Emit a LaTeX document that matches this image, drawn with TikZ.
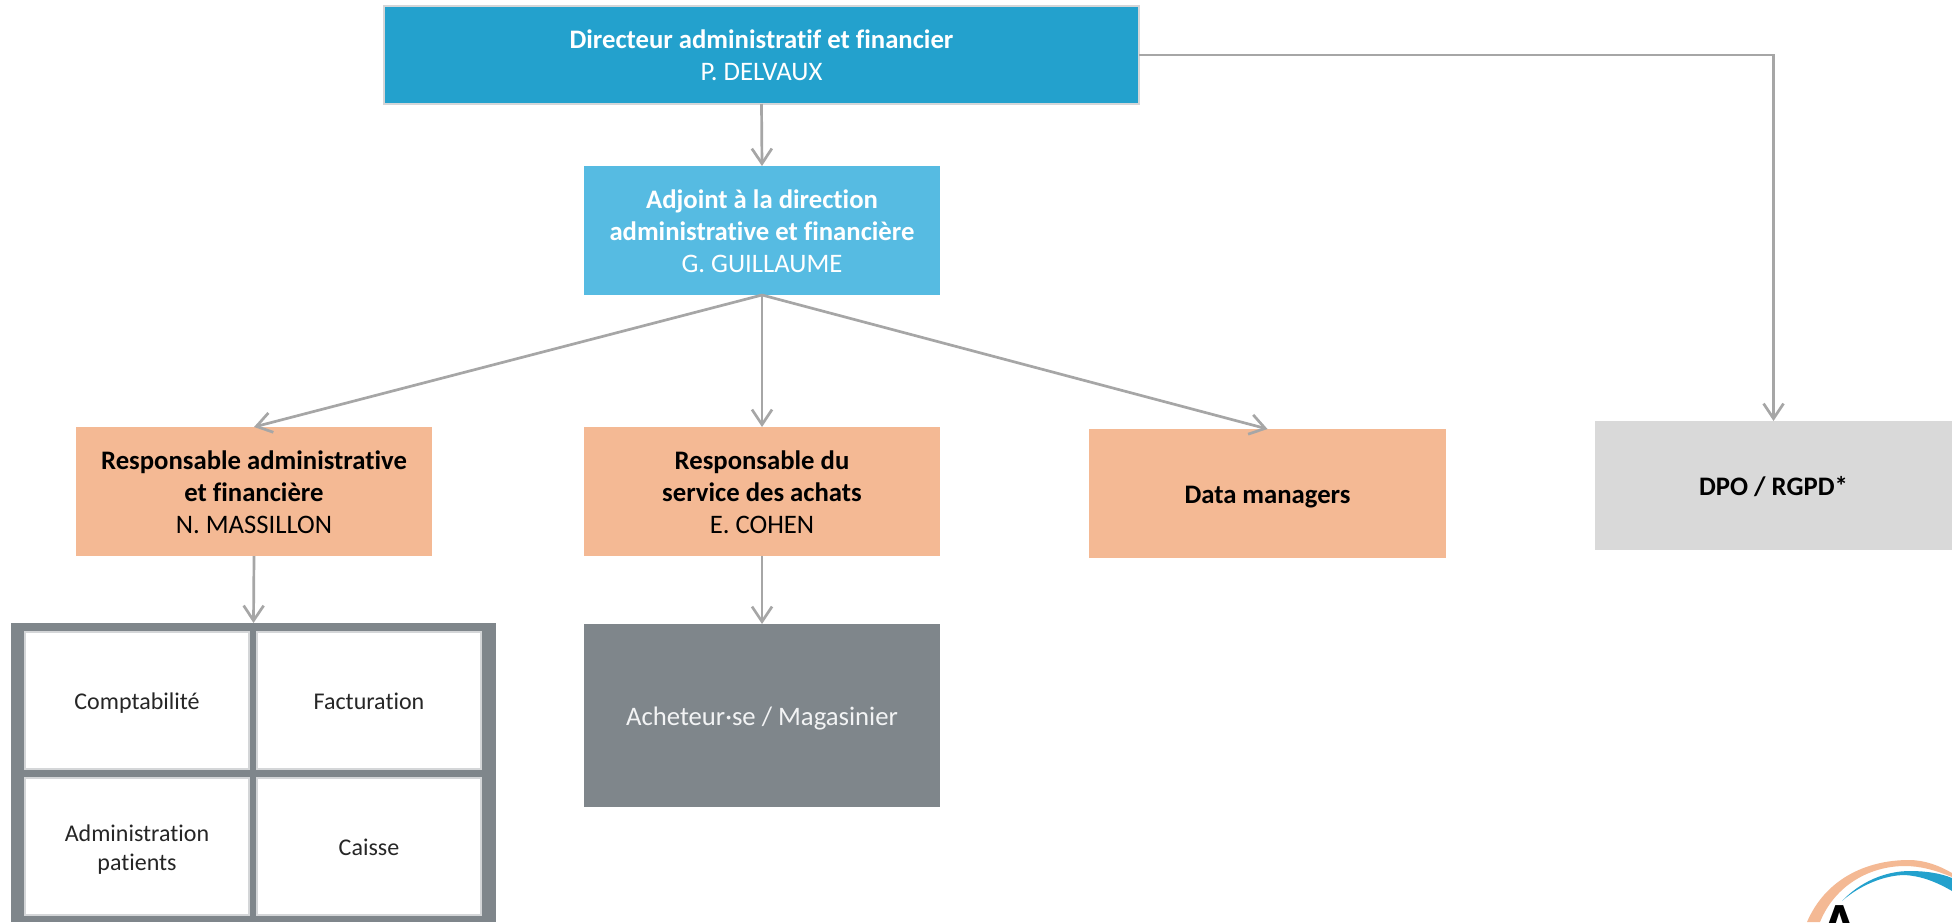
\documentclass[tikz,border=0pt]{standalone}
\usepackage{fontspec}
\setmainfont[RawFeature=-liga]{Carlito}
\usetikzlibrary{arrows.meta}
\definecolor{dirblue}{HTML}{23A1CD}
\definecolor{adjblue}{HTML}{56BBE2}
\definecolor{peach}{HTML}{F4B994}
\definecolor{lgrey}{HTML}{D9D9D9}
\definecolor{dgrey}{HTML}{7F868B}
\definecolor{conn}{HTML}{A6A6A6}
\definecolor{cellline}{HTML}{D4D6D8}
\definecolor{inktext}{HTML}{262626}
\newcommand{\onelinestrut}{\rule[-.3em]{0pt}{1.35em}}
\newcommand{\firstlinestrut}{\rule{0pt}{.76em}}
\tikzset{
  orgbox/.style={rectangle,inner sep=0pt,outer sep=0pt,align=center,font=\fontsize{26.7}{32}\selectfont},
  dirbox/.style={orgbox,fill=dirblue,draw=cellline,line width=1.5pt,text=white,minimum width=755,minimum height=98},
  adjbox/.style={orgbox,fill=adjblue,text=white,minimum width=356,minimum height=129},
  respbox/.style={orgbox,fill=peach,text=black,minimum width=356,minimum height=129},
  dpobox/.style={orgbox,fill=lgrey,text=black,minimum width=357,minimum height=129},
  buybox/.style={orgbox,fill=dgrey,text=white!90!dgrey,minimum width=356,minimum height=183},
  gridbox/.style={orgbox,fill=dgrey,minimum width=485,minimum height=299},
  cellbox/.style={orgbox,fill=white,draw=cellline,line width=1.2pt,text=inktext,minimum width=224,minimum height=137,font=\fontsize{24}{29}\selectfont},
  link/.style={draw=conn,line width=2.7pt,-{Straight Barb[length=15pt,width=20pt,line width=2.7pt]}}
}
\begin{document}
\begin{tikzpicture}[x=1pt,y=-1pt]
\useasboundingbox (0,0) rectangle (1952,922);
\clip (0,0) rectangle (1952,922);
\fill[white] (0,0) rectangle (1952,922);
\node[dirbox] (dir) at (761.5,55) {\textbf{Directeur administratif et financier}\\P. DELVAUX};
\node[adjbox] (adj) at (762,230.5) {\firstlinestrut\textbf{Adjoint à la direction}\\\textbf{administrative et financière}\\G. GUILLAUME};
\node[respbox] (massillon) at (254,491.5) {\firstlinestrut\textbf{Responsable administrative}\\\textbf{et financière}\\N. MASSILLON};
\node[respbox] (cohen) at (762,491.5) {\firstlinestrut\textbf{Responsable du}\\\textbf{service des achats}\\E. COHEN};
\node[respbox,minimum width=357] (data) at (1267.5,493.5) {\onelinestrut\textbf{Data managers}};
\node[dpobox] (dpo) at (1773.5,485.5) {\onelinestrut\textbf{DPO / RGPD*}};
\node[buybox] (buy) at (762,715.5) {\onelinestrut Acheteur·se / Magasinier};
\node[gridbox] (grid) at (253.5,772.5) {};
\node[cellbox] (compta) at (137,700.5) {\onelinestrut Comptabilité};
\node[cellbox] (fact) at (369,700.5) {\onelinestrut Facturation};
\node[cellbox] (admin) at (137,846.5) {\rule{0pt}{.93em}Administration\\patients};
\node[cellbox] (caisse) at (369,846.5) {\onelinestrut Caisse};
\draw[link] (dir.south) -- (adj.north);
\draw[link] (adj.south) -- (massillon.north);
\draw[link] (adj.south) -- (cohen.north);
\draw[link] (adj.south) -- (data.north);
\draw[link] (dir.east) -| (dpo.north);
\draw[link] (massillon.south) -- (grid.north);
\draw[link] (cohen.south) -- (buy.north);
% logo, cut by the page edge
\fill[peach] (1807,922) .. controls (1825,880) and (1865,860) .. (1909,860) .. controls (1925,860) and (1940,866) .. (1952,873) -- (1952,877) .. controls (1935,870) and (1920,866) .. (1905,866) .. controls (1870,866) and (1835,885) .. (1820,922) -- cycle;
\fill[dirblue] (1842,901) .. controls (1860,882) and (1885,871) .. (1910,871) .. controls (1925,871) and (1940,873) .. (1952,878) -- (1952,891) .. controls (1935,881) and (1920,876) .. (1905,875) .. controls (1885,875) and (1860,885) .. (1842,901) -- cycle;
\node[inner sep=0pt,anchor=north,font=\fontsize{60}{60}\selectfont\bfseries] (logoA) at (1840,905) {A};
\end{tikzpicture}
\end{document}
